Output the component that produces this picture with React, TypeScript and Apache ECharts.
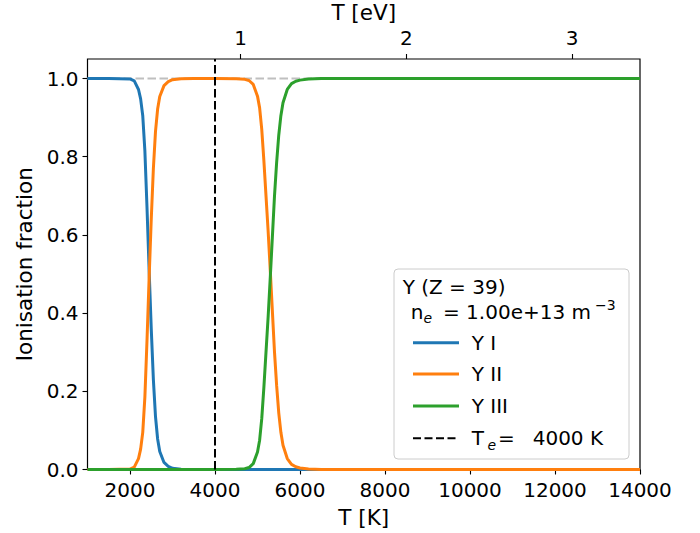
import React, { useEffect, useRef } from "react";
import * as echarts from "echarts";

// Temperature grid [K]
const T_K = [
  1000, 1500, 2000, 2100, 2200, 2250, 2300, 2350, 2400, 2450, 2500, 2550, 2600, 2650, 2700,
  2800, 2900, 3000, 3200, 3500, 4000, 4500, 4700, 4800, 4900, 5000, 5050, 5100, 5150, 5200,
  5250, 5300, 5350, 5400, 5450, 5500, 5550, 5600, 5700, 5800, 5900, 6000, 6200, 6500, 7000,
  8000, 10000, 12000, 14000,
];

const Y_I = [
  1, 1, 0.999, 0.994, 0.972, 0.948, 0.905, 0.815, 0.67, 0.51, 0.36, 0.23, 0.135, 0.078, 0.046,
  0.018, 0.008, 0.003, 0.0005, 0, 0, 0, 0, 0, 0, 0, 0, 0, 0, 0,
  0, 0, 0, 0, 0, 0, 0, 0, 0, 0, 0, 0, 0, 0, 0,
  0, 0, 0, 0,
];

const Y_II = [
  0, 0, 0.001, 0.006, 0.028, 0.052, 0.095, 0.185, 0.33, 0.49, 0.64, 0.77, 0.865, 0.922, 0.954,
  0.982, 0.992, 0.997, 0.9995, 1, 1, 0.9995, 0.998, 0.995, 0.985, 0.955, 0.925, 0.87, 0.79, 0.7,
  0.61, 0.51, 0.405, 0.3, 0.215, 0.145, 0.095, 0.062, 0.028, 0.013, 0.007, 0.004, 0.001, 0, 0,
  0, 0, 0, 0,
];

const Y_III = [
  0, 0, 0, 0, 0, 0, 0, 0, 0, 0, 0, 0, 0, 0, 0,
  0, 0, 0, 0, 0, 0, 0.0005, 0.002, 0.005, 0.015, 0.045, 0.075, 0.13, 0.21, 0.3,
  0.39, 0.49, 0.595, 0.7, 0.785, 0.855, 0.905, 0.938, 0.972, 0.987, 0.993, 0.996, 0.999, 1, 1,
  1, 1, 1, 1,
];

const TOTAL_T = [1000, 14000];
const TOTAL_V = [1, 1];

const TE_K = 4000;

const X_TICKS = [2000, 4000, 6000, 8000, 10000, 12000, 14000];
const Y_TICKS = [0, 0.2, 0.4, 0.6, 0.8, 1.0];
const EV_TICKS = [1, 2, 3];

const FONT = '"DejaVu Sans", "Liberation Sans", sans-serif';
const FS = 20;
const FS_NAME = 21.5;

function zip(xs: number[], ys: number[]) {
  return xs.map((x, i) => [x, ys[i]]);
}

export default function App() {
  const ref = useRef<HTMLDivElement>(null);

  useEffect(() => {
    document.body.style.margin = "0";
    if (!ref.current) return;
    const chart = echarts.init(ref.current, undefined, { renderer: "svg" });

    const txt = (text: string, x: number, y: number, size = FS, italic = false) => ({
      type: "text",
      z: 101,
      style: {
        text,
        x,
        y,
        fill: "#000",
        font: `${italic ? "italic " : ""}${size}px ${FONT}`,
        align: "left",
        verticalAlign: "middle",
        textAlign: "left",
        textVerticalAlign: "middle",
      },
    });
    const sample = (y: number, color: string, dash?: number[]) => ({
      type: "line",
      z: 101,
      shape: { x1: 413, y1: y, x2: 459, y2: y },
      style: { stroke: color, lineWidth: dash ? 2 : 3, lineDash: dash },
    });

    const option: any = {
      animation: false,
      grid: {
        left: 87.5,
        right: 60,
        top: 59,
        bottom: 63.5,
        show: true,
        borderColor: "#000",
        borderWidth: 1.2,
        backgroundColor: "transparent",
        outerBoundsMode: "none",
      },
      xAxis: [
        {
          type: "value",
          position: "bottom",
          min: 1000,
          max: 14000,
          axisLine: { show: false },
          axisTick: { show: true, length: 5, lineStyle: { color: "#000", width: 1.1 }, customValues: X_TICKS },
          axisLabel: {
            customValues: X_TICKS,
            margin: 10,
            color: "#000",
            fontSize: FS,
            fontFamily: FONT,
            formatter: (v: number) => String(v),
          },
          splitLine: { show: false },
          name: "T [K]",
          nameLocation: "middle",
          nameGap: 36.5,
          nameTextStyle: { color: "#000", fontSize: FS_NAME, fontFamily: FONT },
        },
        {
          type: "value",
          position: "top",
          min: 0.077,
          max: 3.409,
          axisLine: { show: false },
          axisTick: { show: true, length: 5, lineStyle: { color: "#000", width: 1.1 }, customValues: EV_TICKS },
          axisLabel: {
            customValues: EV_TICKS,
            margin: 11,
            color: "#000",
            fontSize: FS,
            fontFamily: FONT,
            formatter: (v: number) => String(v),
          },
          splitLine: { show: false },
          name: "T [eV]",
          nameLocation: "middle",
          nameGap: 31,
          nameTextStyle: { color: "#000", fontSize: FS_NAME, fontFamily: FONT },
        },
      ],
      yAxis: {
        type: "value",
        min: 0,
        max: 1.05,
        axisLine: { show: false },
        axisTick: { show: true, length: 5, lineStyle: { color: "#000", width: 1.1 }, customValues: Y_TICKS },
        axisLabel: {
          customValues: Y_TICKS,
          margin: 9,
          color: "#000",
          fontSize: FS,
          fontFamily: FONT,
          formatter: (v: number) => v.toFixed(1),
        },
        splitLine: { show: false },
        name: "Ionisation fraction",
        nameLocation: "middle",
        nameGap: 52,
        nameTextStyle: { color: "#000", fontSize: FS_NAME, fontFamily: FONT },
      },
      series: [
        {
          name: "Total",
          type: "line",
          data: zip(TOTAL_T, TOTAL_V),
          symbol: "none",
          showSymbol: false,
          z: 1,
          silent: true,
          lineStyle: { color: "#bfbfbf", width: 2, type: [8.5, 3.5] },
        },
        {
          name: "Y I",
          type: "line",
          data: zip(T_K, Y_I),
          symbol: "none",
          showSymbol: false,
          z: 2,
          silent: true,
          lineStyle: { color: "#1f77b4", width: 3 },
          itemStyle: { color: "#1f77b4" },
        },
        {
          name: "Y II",
          type: "line",
          data: zip(T_K, Y_II),
          symbol: "none",
          showSymbol: false,
          z: 3,
          silent: true,
          lineStyle: { color: "#ff7f0e", width: 3 },
          itemStyle: { color: "#ff7f0e" },
        },
        {
          name: "Y III",
          type: "line",
          data: zip(T_K, Y_III),
          symbol: "none",
          showSymbol: false,
          z: 4,
          silent: true,
          lineStyle: { color: "#2ca02c", width: 3 },
          itemStyle: { color: "#2ca02c" },
        },
        {
          name: "Te",
          type: "line",
          data: [
            [TE_K, 0],
            [TE_K, 1.05],
          ],
          symbol: "none",
          showSymbol: false,
          z: 5,
          silent: true,
          lineStyle: { color: "#000", width: 2, type: [8.5, 3.5] },
        },
      ],
      graphic: [
        {
          type: "rect",
          z: 100,
          shape: { x: 394, y: 269, width: 235, height: 190, r: 4 },
          style: { fill: "rgba(255,255,255,0.8)", stroke: "#cccccc", lineWidth: 1 },
        },
        txt("Y (Z = 39)", 402.7, 286.7),
        txt("n", 410.7, 311.7),
        txt("e", 423.5, 318, 14, true),
        txt("= 1.00e+13 m", 443, 311.7),
        txt("\u22123", 595, 305, 14),
        sample(342.7, "#1f77b4"),
        txt("Y I", 471.7, 342.7),
        sample(374, "#ff7f0e"),
        txt("Y II", 471.7, 374),
        sample(406, "#2ca02c"),
        txt("Y III", 471.7, 406),
        sample(438.3, "#000", [8, 3.5]),
        txt("T", 471.7, 438.3),
        txt("e", 487.5, 444.6, 14, true),
        txt("=", 498, 438.3),
        txt("4000 K", 532.7, 438.3),
      ],
    };

    chart.setOption(option);
    return () => chart.dispose();
  }, []);

  return <div ref={ref} style={{ width: 700, height: 533 }} />;
}
